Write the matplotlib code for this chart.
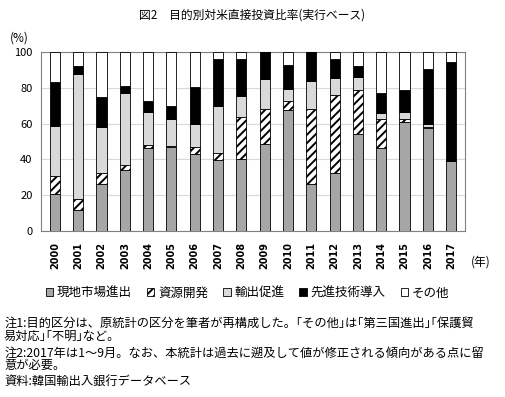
import matplotlib
matplotlib.use('Agg')
import matplotlib.pyplot as plt
from matplotlib.patches import Patch
import numpy as np

plt.rcParams['font.family'] = ['Noto Sans CJK JP', 'DejaVu Sans']
plt.rcParams['hatch.linewidth'] = 1.4

years = [str(y) for y in range(2000, 2018)]
# shares (%) by purpose
local_market = [20.7, 11.9, 26.3, 34.3, 46.2, 46.7, 43.0, 39.5, 40.4, 48.6, 67.6, 26.3, 32.6, 54.4, 46.2, 61.1, 57.4, 39.1]
resources = [10.0, 5.8, 5.9, 2.4, 1.7, 0.6, 3.7, 3.9, 23.1, 19.4, 4.8, 41.7, 43.4, 24.6, 16.2, 1.3, 0.5, 0.0]
export_promo = [28.0, 69.8, 25.9, 40.2, 18.6, 15.1, 12.9, 26.2, 11.7, 16.7, 7.1, 16.0, 9.3, 6.8, 3.7, 4.3, 1.7, 0.0]
advanced_tech = [24.7, 4.7, 16.6, 4.1, 6.1, 7.2, 21.0, 26.7, 21.1, 15.3, 13.4, 16.0, 10.6, 6.4, 10.8, 12.3, 30.7, 55.3]
others = [16.6, 7.8, 25.3, 19.0, 27.4, 30.4, 19.4, 3.7, 3.7, 0.0, 7.1, 0.0, 4.1, 7.8, 23.1, 21.0, 9.7, 5.6]

labels = ['現地市場進出', '資源開発', '輸出促進', '先進技術導入', 'その他']
colors = ['#a6a6a6', 'white', '#d9d9d9', 'black', 'white']
hatches = [None, '////', None, None, None]

fig = plt.figure(figsize=(5.05, 3.97), dpi=100)
ax = fig.add_axes([0.081, 0.418, 0.84, 0.451])

series = [local_market, resources, export_promo, advanced_tech, others]
x = np.arange(len(years))
bottom = np.zeros(len(years))
for vals, c, h in zip(series, colors, hatches):
    ax.bar(x, vals, width=0.43, bottom=bottom, color=c, hatch=h,
           edgecolor='black', linewidth=0.6, zorder=3)
    bottom += np.array(vals)

ax.set_ylim(0, 100)
ax.set_xlim(-0.6, len(years) - 0.4)
ax.set_yticks(range(0, 101, 20))
ax.set_xticks(x)
ax.set_xticklabels(years, rotation=90, fontsize=7, fontweight='bold', family='DejaVu Sans')
ax.tick_params(axis='y', labelsize=8, length=0, pad=6)
ax.tick_params(axis='x', length=0, pad=8)
ax.yaxis.grid(True, color='#d9d9d9', linewidth=0.8, zorder=0)
for s in ax.spines.values():
    s.set_color('#808080')
    s.set_linewidth(0.8)

fig.text(0.5, 0.962, '図2　目的別対米直接投資比率(実行ベース)', ha='center', va='center', fontsize=8.5)
fig.text(0.02, 0.905, '(%)', ha='left', va='center', fontsize=8.5)
fig.text(0.932, 0.34, '(年)', ha='left', va='center', fontsize=8.5)

handles = [Patch(facecolor=c, edgecolor='black', hatch=h, linewidth=0.6)
           for c, h in zip(colors, hatches)]
fig.legend(handles, labels, loc='center', bbox_to_anchor=(0.49, 0.262), ncol=5,
           frameon=False, fontsize=9, handlelength=0.6, handleheight=0.6,
           handletextpad=0.3, columnspacing=1.2)

notes = [
    '注1:目的区分は、原統計の区分を筆者が再構成した。｢その他｣は｢第三国進出｣｢保護貿',
    '易対応｣｢不明｣など。',
    '注2:2017年は1～9月。なお、本統計は過去に遡及して値が修正される傾向がある点に留',
    '意が必要。',
    '資料:韓国輸出入銀行データベース',
]
note_y = [0.186, 0.1537, 0.111, 0.0806, 0.038]
for line, yy in zip(notes, note_y):
    fig.text(0.008, yy, line, ha='left', va='center', fontsize=8.8)

fig.savefig('out.png', dpi=100)
